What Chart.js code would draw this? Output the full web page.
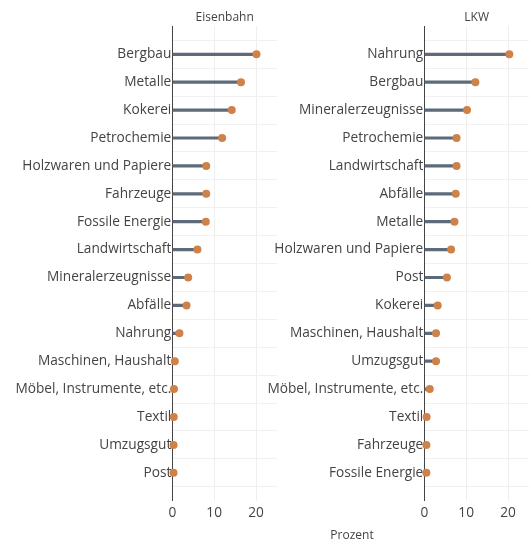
<!DOCTYPE html>
<html>
<head>
<meta charset="utf-8">
<script src="https://cdn.jsdelivr.net/npm/chart.js@4/dist/chart.umd.min.js"></script>
<style>
  body { margin: 0; width: 530px; height: 543px; overflow: hidden; background: #fff; position: relative; font-family: "Open Sans", sans-serif; }
  canvas { position: absolute; top: 0; }
  #rail { left: 0; }
  #truck { left: 252px; }
  #xtitle { position: absolute; left: 302px; width: 100px; top: 526px; text-align: center; font-size: 12px; color: #444; }
</style>
</head>
<body>
<canvas id="rail" width="281" height="543"></canvas>
<canvas id="truck" width="281" height="543"></canvas>
<div id="xtitle">Prozent</div>
<script>
const railCategories = ["Bergbau", "Metalle", "Kokerei", "Petrochemie", "Holzwaren und Papiere", "Fahrzeuge", "Fossile Energie", "Landwirtschaft", "Mineralerzeugnisse", "Abfälle", "Nahrung", "Maschinen, Haushalt", "Möbel, Instrumente, etc.", "Textil", "Umzugsgut", "Post"];
const railValues = [20.1, 16.4, 14.2, 11.9, 8.1, 8.1, 8.0, 6.0, 3.8, 3.4, 1.7, 0.6, 0.4, 0.35, 0.3, 0.3];

const truckCategories = ["Nahrung", "Bergbau", "Mineralerzeugnisse", "Petrochemie", "Landwirtschaft", "Abfälle", "Metalle", "Holzwaren und Papiere", "Post", "Kokerei", "Maschinen, Haushalt", "Umzugsgut", "Möbel, Instrumente, etc.", "Textil", "Fahrzeuge", "Fossile Energie"];
const truckValues = [20.3, 12.2, 10.2, 7.7, 7.7, 7.5, 7.2, 6.4, 5.4, 3.2, 2.8, 2.8, 1.3, 0.55, 0.5, 0.5];

const xTicks = [0, 10, 20];

const lineColor = "rgb(92, 106, 122)";
const dotColor = "rgb(206, 130, 74)";
const textColor = "#444";

function createChart(ctx, title, cats, vals) {
  const points = cats.map((c, i) => ({ x: vals[i], y: i }));
  new Chart(ctx, {
    type: "bar",
    data: {
      datasets: [
        {
          type: "scatter",
          data: points,
          backgroundColor: dotColor,
          borderWidth: 0,
          pointRadius: 4,
          clip: false,
          order: 0,
        },
        {
          type: "bar",
          data: points,
          backgroundColor: lineColor,
          barThickness: 2.5,
          order: 1,
        },
      ],
    },
    options: {
      indexAxis: "y",
      responsive: false,
      devicePixelRatio: 1,
      animation: false,
      layout: { padding: 0 },
      plugins: {
        legend: { display: false },
        tooltip: { enabled: false },
        title: {
          display: true,
          text: title,
          fullSize: false,
          color: textColor,
          font: { family: "Open Sans", size: 12, weight: "normal" },
          padding: { top: 10, bottom: 2 },
        },
      },
      scales: {
        x: {
          type: "linear",
          min: 0,
          max: 25,
          offset: false,
          afterBuildTicks: (s) => { s.ticks = xTicks.map((v) => ({ value: v })); },
          afterFit: (s) => { s.height = 42.3; },
          grid: { color: "#eee", drawTicks: false },
          border: { display: false },
          ticks: { color: textColor, padding: 4, font: { family: "Open Sans", size: 13.7 } },
        },
        y: {
          type: "linear",
          min: -1,
          max: 16,
          reverse: true,
          offset: false,
          afterBuildTicks: (s) => { s.ticks = cats.map((c, i) => ({ value: i })); },
          afterFit: (s) => { s.width = 172.3; },
          grid: { color: "#f0f0f0", drawTicks: false },
          border: { display: true, color: textColor, width: 1 },
          ticks: {
            color: textColor,
            padding: 1,
            autoSkip: false,
            font: { family: "Open Sans", size: 13.7 },
            callback: (v) => cats[v] ?? "",
          },
        },
      },
    },
  });
}

createChart(document.querySelector("#rail").getContext("2d"), "Eisenbahn", railCategories, railValues);
createChart(document.querySelector("#truck").getContext("2d"), "LKW", truckCategories, truckValues);
</script>
</body>
</html>
